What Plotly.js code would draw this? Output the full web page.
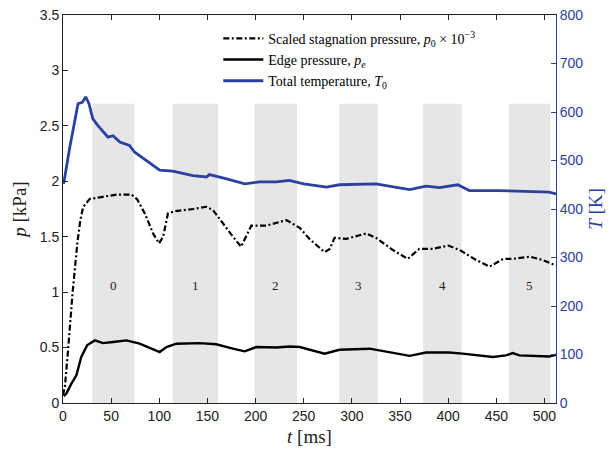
<!DOCTYPE html>
<html>
<head>
<meta charset="utf-8">
<script src="https://cdn.plot.ly/plotly-3.0.1.min.js"></script>
<style>html,body{margin:0;padding:0;background:#fff;}#chart{width:611px;height:457px;}</style>
</head>
<body>
<div id="chart"></div>
<script>
// Scaled stagnation pressure p0 x 1e-3 [kPa]
const p0Time = [0, 2, 5, 10, 15, 18, 21, 27.7, 41.5, 55.5, 71, 76.8, 85, 93.5, 99.7, 104, 109, 116, 135, 149, 155.8, 166, 176.5, 185, 190.4, 195.6, 211, 232, 245.8, 256, 271.7, 277, 282, 294, 315, 325, 342.7, 358, 370, 384, 400, 412, 429, 443, 457, 467, 485, 498, 512];
const p0Vals = [0.07, 0.15, 0.45, 1.0, 1.45, 1.65, 1.77, 1.84, 1.86, 1.88, 1.88, 1.84, 1.71, 1.53, 1.44, 1.50, 1.71, 1.73, 1.75, 1.77, 1.74, 1.62, 1.50, 1.41, 1.50, 1.60, 1.60, 1.65, 1.58, 1.48, 1.36, 1.39, 1.49, 1.48, 1.53, 1.49, 1.38, 1.30, 1.39, 1.39, 1.42, 1.38, 1.29, 1.23, 1.30, 1.30, 1.32, 1.29, 1.24];

// Edge pressure pe [kPa]
const peTime = [0.7, 3.5, 8.7, 13.9, 19, 25, 33, 41.5, 52, 65.8, 79.6, 91.8, 100.4, 107.4, 117.8, 142, 159, 176.5, 188.7, 200.8, 221.6, 235.4, 245.8, 271.7, 287, 318.5, 360, 377, 401, 415, 446.5, 460, 467, 474, 505, 512];
const peVals = [0.063, 0.085, 0.175, 0.25, 0.415, 0.52, 0.565, 0.54, 0.55, 0.565, 0.535, 0.49, 0.46, 0.505, 0.535, 0.54, 0.53, 0.49, 0.466, 0.505, 0.50, 0.51, 0.505, 0.445, 0.48, 0.49, 0.425, 0.455, 0.455, 0.445, 0.415, 0.43, 0.45, 0.43, 0.42, 0.435];

// Total temperature T0 [K]
const tTime = [0.7, 7, 15.6, 20, 23.6, 27, 31, 36.3, 46.7, 52, 59, 69, 74.5, 86.6, 100.4, 114, 135, 149, 152, 170, 188.7, 204, 221.6, 235, 250, 273.5, 287, 325, 360, 377, 391, 410, 422, 453, 488, 505, 512];
const tVals = [452, 527, 617, 620, 631, 617, 586, 572, 548, 551, 538, 531, 517, 500, 480, 478, 469, 466, 471, 462, 452, 456, 456, 459, 452, 445, 450, 452, 440, 447, 444, 450, 438, 438, 437, 435, 431];

// Shaded test windows
const bandLabels = ['0', '1', '2', '3', '4', '5'];
const bandStart = [30.5, 114, 199, 287, 374, 463];
const bandEnd = [74, 161, 243, 327, 414, 506];
const bandTop = 2.7;
const bandLabelY = 1.06;

const blue = 'rgb(43,65,160)';
const serif = 'Liberation Serif, Times New Roman, serif';
const sans = 'Liberation Sans, Arial, sans-serif';

const traces = [
  {x: p0Time, y: p0Vals, type: 'scatter', mode: 'lines', name: 'Scaled stagnation pressure, <i>p</i><sub>0</sub> × 10<sup>−3</sup>',
   line: {color: 'black', width: 2.2, dash: '6px,2.5px,2px,2.5px'}},
  {x: peTime, y: peVals, type: 'scatter', mode: 'lines', name: 'Edge pressure, <i>p<sub>e</sub></i>',
   line: {color: 'black', width: 2.4}},
  {x: tTime, y: tVals, type: 'scatter', mode: 'lines', name: 'Total temperature, <i>T</i><sub>0</sub>', yaxis: 'y2',
   line: {color: blue, width: 2.8}}
];

const shapes = bandStart.map((s, i) => ({
  type: 'rect', xref: 'x', yref: 'y', x0: s, x1: bandEnd[i], y0: 0, y1: bandTop,
  fillcolor: 'rgb(230,230,230)', line: {width: 0}, layer: 'below'
}));

const annotations = bandLabels.map((lab, i) => ({
  x: (bandStart[i] + bandEnd[i]) / 2, y: bandLabelY, xref: 'x', yref: 'y',
  text: lab, showarrow: false, font: {family: serif, size: 13, color: '#222'}
}));

const layout = {
  width: 611, height: 457,
  margin: {l: 63, r: 55, t: 15, b: 54},
  paper_bgcolor: 'white', plot_bgcolor: 'white',
  showlegend: true,
  legend: {x: 0.315, y: 0.98, xanchor: 'left', yanchor: 'top', bgcolor: 'rgba(0,0,0,0)',
           font: {family: serif, size: 14, color: 'black'}, tracegroupgap: 0, itemwidth: 40},
  xaxis: {range: [0, 512], tickvals: [0, 50, 100, 150, 200, 250, 300, 350, 400, 450, 500],
          ticks: 'inside', ticklen: 5, tickcolor: '#222', showline: true, linecolor: '#222', linewidth: 1,
          mirror: 'ticks', showgrid: false, zeroline: false,
          tickfont: {family: sans, size: 14, color: '#222'},
          title: {text: '<i>t</i> [ms]', font: {family: serif, size: 19, color: '#222'}, standoff: 6}},
  yaxis: {range: [0, 3.5], tickvals: [0, 0.5, 1, 1.5, 2, 2.5, 3, 3.5], ticktext: ['0', '0.5', '1', '1.5', '2', '2.5', '3', '3.5'],
          ticks: 'inside', ticklen: 5, tickcolor: '#222', showline: true, linecolor: '#222', linewidth: 1,
          showgrid: false, zeroline: false,
          tickfont: {family: sans, size: 14, color: '#222'},
          title: {text: '<i>p</i> [kPa]', font: {family: serif, size: 19, color: '#222'}, standoff: 8}},
  yaxis2: {range: [0, 800], tickvals: [0, 100, 200, 300, 400, 500, 600, 700, 800],
           overlaying: 'y', side: 'right', anchor: 'x',
           ticks: 'inside', ticklen: 5, tickcolor: blue, showline: true, linecolor: blue, linewidth: 1,
           showgrid: false, zeroline: false,
           tickfont: {family: sans, size: 14, color: blue},
           title: {text: '<i>T</i> [K]', font: {family: serif, size: 19, color: blue}, standoff: 6}},
  shapes: shapes,
  annotations: annotations
};

Plotly.newPlot('chart', traces, layout, {displayModeBar: false, staticPlot: true});
</script>
</body>
</html>
